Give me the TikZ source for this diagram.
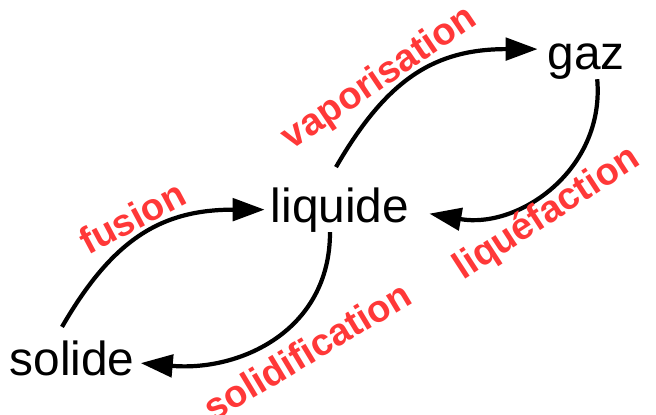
\documentclass[tikz,border=0pt]{standalone}
\usepackage{fontspec}
\setmainfont{Liberation Sans}
\usetikzlibrary{arrows.meta}
\definecolor{rouge}{RGB}{255,56,56}

\begin{document}
\begin{tikzpicture}[
  etat/.style={anchor=base, inner sep=0pt, font=\fontsize{34}{40}\selectfont},
  fleche/.style={-{Triangle[length=0.8cm,width=0.56cm]}, line width=3pt},
  transition/.style={text=rouge, inner sep=0pt, font=\bfseries\fontsize{27}{32}\selectfont}]

\useasboundingbox (0,0) rectangle (16.4,10.35);

\node[etat] (solide) at (1.8,0.975) {solide};
\node[etat] (liquide) at (8.5,4.8) {liquide};
\node[etat] (gaz) at (14.65,8.625) {gaz};

\draw[fleche] ([xshift=-0.25cm,yshift=0.33cm]solide.north) to[out=60, in=180, looseness=1.12] ([xshift=-0.15cm]liquide.west);
\draw[fleche] ([xshift=-0.1cm,yshift=0.5cm]liquide.north) to[out=60, in=180, looseness=1.12] ([xshift=-0.24cm,yshift=0.3cm]gaz.west);
\draw[fleche] ([xshift=0.28cm]gaz.south) to[out=-85, in=-10, looseness=1.08] ([xshift=0.5cm,yshift=-0.1cm]liquide.east);
\draw[fleche] ([xshift=-0.25cm]liquide.south) to[out=-90, in=-5, looseness=1.1] ([xshift=0.15cm,yshift=-0.13cm]solide.east);

\node[transition, rotate=28] (fusion) at (3.3,4.92) {fusion};
\node[transition, rotate=34] (vaporisation) at (9.5,8.38) {vaporisation};
\node[transition, rotate=33] (liquefaction) at (13.68,5.0) {liquéfaction};
\node[transition, rotate=31] (solidification) at (7.68,1.58) {solidification};

\end{tikzpicture}
\end{document}
